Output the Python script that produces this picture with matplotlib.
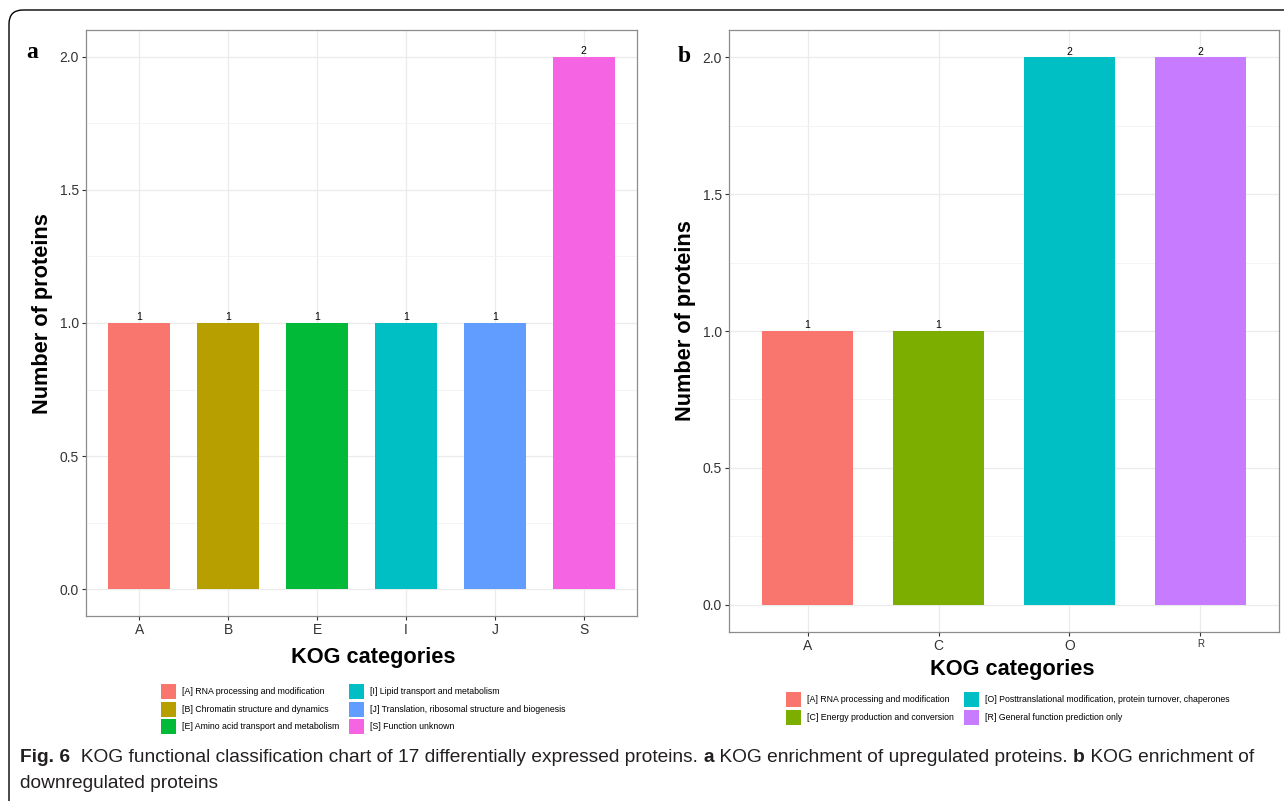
import matplotlib
matplotlib.use("Agg")
import matplotlib.pyplot as plt
from matplotlib.patches import Patch, FancyBboxPatch
from matplotlib.transforms import IdentityTransform
from matplotlib.ticker import MultipleLocator

# ---------------- data ----------------
cats_a = ["A", "B", "E", "I", "J", "S"]
vals_a = [1, 1, 1, 1, 1, 2]
legend_a = ["[A] RNA processing and modification",
            "[B] Chromatin structure and dynamics",
            "[E] Amino acid transport and metabolism",
            "[I] Lipid transport and metabolism",
            "[J] Translation, ribosomal structure and biogenesis",
            "[S] Function unknown"]
colors_a = ["#F8766D", "#B79F00", "#00BA38", "#00BFC4", "#619CFF", "#F564E3"]

cats_b = ["A", "C", "O", "R"]
vals_b = [1, 1, 2, 2]
legend_b = ["[A] RNA processing and modification",
            "[C] Energy production and conversion",
            "[O] Posttranslational modification, protein turnover, chaperones",
            "[R] General function prediction only"]
colors_b = ["#F8766D", "#7CAE00", "#00BFC4", "#C77CFF"]

yticks = [0.0, 0.5, 1.0, 1.5, 2.0]

W, H = 1284, 801
plt.rcParams['font.family'] = ['Liberation Sans', 'DejaVu Sans']
fig = plt.figure(figsize=(W / 100, H / 100), dpi=100)


def px_axes(x0, y0, x1, y1):
    return fig.add_axes([x0 / W, 1 - y1 / H, (x1 - x0) / W, (y1 - y0) / H])


def panel(ax, cats, vals, cols):
    x = range(len(cats))
    ax.bar(x, vals, width=0.7, color=cols, zorder=3)
    for xi, v in zip(x, vals):
        ax.annotate(f"{v}", (xi, v), xytext=(0, 0.5), textcoords="offset points",
                    ha="center", va="bottom", fontsize=7.5, color="black", zorder=4)
    ax.set_xlim(-0.6, len(cats) - 0.4)
    ax.set_ylim(-0.1, 2.1)
    ax.set_xticks(list(x))
    ax.set_xticklabels(cats)
    ax.set_yticks(yticks)
    ax.set_yticklabels([f"{t:.1f}" for t in yticks])
    ax.yaxis.set_minor_locator(MultipleLocator(0.25))
    ax.grid(True, which="major", color="#EBEBEB", lw=0.9, zorder=0)
    ax.grid(True, which="minor", axis="y", color="#F2F2F2", lw=0.6, zorder=0)
    for s in ax.spines.values():
        s.set_color("#8C8C8C")
        s.set_linewidth(0.9)
    ax.tick_params(axis="both", which="major", length=3, width=0.8, color="#333333",
                   labelsize=10, labelcolor="#333333", pad=2)
    ax.tick_params(which="minor", length=0)
    ax.set_axisbelow(True)


LEG = dict(ncol=2, loc="upper left", frameon=False, fontsize=6.3,
           handlelength=1.7, handleheight=2.26, handletextpad=0.69,
           labelspacing=0.29, columnspacing=1.14, borderpad=0, borderaxespad=0)

# ---------------- panel a ----------------
ax_a = px_axes(86, 30, 637, 616)
panel(ax_a, cats_a, vals_a, colors_a)
ax_a.set_ylabel("Number of proteins", fontsize=15.7, fontweight="bold", va="center")
ax_a.yaxis.set_label_coords((43 - 86) / 551, (616 - 314) / 586)
ax_a.set_xlabel("KOG categories", fontsize=15.7, fontweight="bold", va="center")
ax_a.xaxis.set_label_coords((373 - 86) / 551, (616 - 658) / 586)
fig.text(32 / W, 1 - 52 / H, "a", family=["Liberation Serif", "DejaVu Serif"],
         fontweight="bold", fontsize=17, ha="center", va="center")

fig.legend([Patch(facecolor=c) for c in colors_a], legend_a,
           bbox_to_anchor=(161 / W, 1 - 684 / H), **LEG)

# ---------------- panel b ----------------
ax_b = px_axes(729, 30, 1279, 632)
panel(ax_b, cats_b, vals_b, colors_b)
ax_b.get_xticklabels()[3].set_fontsize(7)
ax_b.set_ylabel("Number of proteins", fontsize=15.7, fontweight="bold", va="center")
ax_b.yaxis.set_label_coords((686 - 729) / 550, (632 - 321) / 602)
ax_b.set_xlabel("KOG categories", fontsize=15.7, fontweight="bold", va="center")
ax_b.xaxis.set_label_coords((1012 - 729) / 550, (632 - 670) / 602)
fig.text(684 / W, 1 - 57 / H, "b", family=["Liberation Serif", "DejaVu Serif"],
         fontweight="bold", fontsize=17, ha="center", va="center")

fig.legend([Patch(facecolor=c) for c in colors_b], legend_b,
           bbox_to_anchor=(786 / W, 1 - 692 / H), **LEG)

# ---------------- frame ----------------
frame = FancyBboxPatch((9, -20), 1400, H - 10 + 20,
                       boxstyle="round,pad=0,rounding_size=14",
                       transform=IdentityTransform(), fill=False,
                       edgecolor="black", lw=1.0)
fig.patches.append(frame)

# ---------------- caption ----------------
cap_family = ["Liberation Sans", "DejaVu Sans"]
cap_size = 13.8
line1 = [("Fig. 6", "bold"),
         ("  KOG functional classification chart of 17 differentially expressed proteins. ", "normal"),
         ("a", "bold"),
         (" KOG enrichment of upregulated proteins. ", "normal"),
         ("b", "bold"),
         (" KOG enrichment of", "normal")]
line2 = [("downregulated proteins", "normal")]

renderer = fig.canvas.get_renderer()


def put_line(parts, x0, ybase):
    x = x0
    for txt, wt in parts:
        t = fig.text(x / W, 1 - ybase / H, txt, family=cap_family, fontsize=cap_size,
                     fontweight=wt, ha="left", va="baseline", color="#231F20")
        bb = t.get_window_extent(renderer)
        x += bb.width


put_line(line1, 20, 762)
put_line(line2, 20, 788)

fig.savefig("out.png", dpi=100)
